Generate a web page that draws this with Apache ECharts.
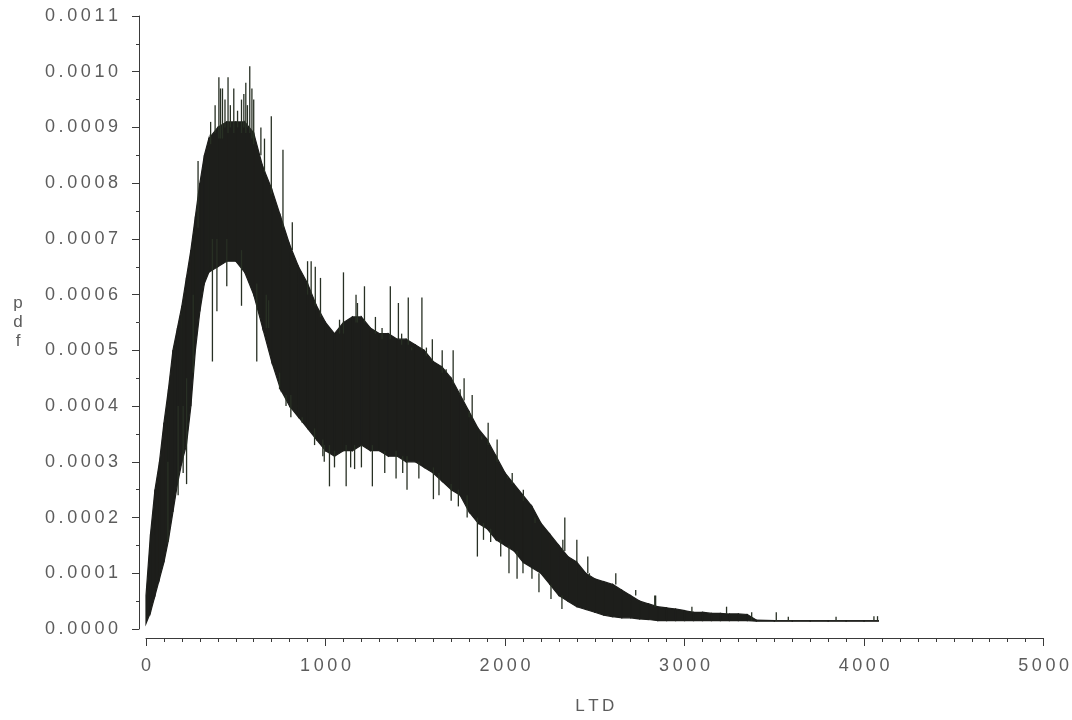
<!DOCTYPE html>
<html>
<head>
<meta charset="utf-8">
<script src="https://cdn.jsdelivr.net/npm/echarts@6/dist/echarts.min.js"></script>
<style>
html,body{margin:0;padding:0;background:#fff;}
#chart{width:1072px;height:720px;}
</style>
</head>
<body>
<div id="chart"></div>
<script>
// LTD grid (x) where the band envelope was read
const ltd = [0,25,50,75,100,125,150,175,200,225,250,275,300,325,350,400,450,500,550,600,650,700,750,800,850,900,950,
  1000,1050,1100,1150,1200,1250,1300,1350,1400,1450,1500,1550,1600,1650,1700,1750,1800,1850,1900,1950,
  2000,2050,2100,2150,2200,2250,2300,2350,2400,2450,2500,2550,2600,2650,2700,2750,2800,2850,2900,2950,
  3000,3050,3100,3150,3200,3250,3300,3350,3400,3500,3600,3700,3800,3900,4000,4080];
// upper edge of the dense pdf band
const bandHigh = [0.00006,0.00017,0.00025,0.00030,0.00037,0.00043,0.00050,0.00054,0.00058,0.00063,0.00068,0.00074,0.00080,0.00085,0.00088,0.00090,0.00091,0.00091,0.00091,0.00089,0.00083,0.00079,0.00074,0.00069,0.00065,0.00062,0.00058,
  0.00055,0.00053,0.00055,0.00056,0.00056,0.00054,0.00053,0.00053,0.00052,0.00052,0.00051,0.00050,0.00048,0.00047,0.00045,0.00042,0.00039,0.00036,0.00034,0.00031,
  0.00028,0.00026,0.00024,0.00022,0.00019,0.00017,0.00015,0.00013,0.00012,0.00010,0.00009,0.000085,0.00008,0.00007,0.00006,0.00005,0.000045,0.00004,0.000038,0.000036,
  0.000033,0.00003,0.00003,0.000028,0.000028,0.000027,0.000027,0.000026,0.000016,0.000015,0.000015,0.000015,0.000015,0.000015,0.000015,0.000015];
// lower edge of the dense pdf band
const bandLow = [0.00001,0.00003,0.00006,0.00009,0.00012,0.00016,0.00021,0.00026,0.00030,0.00033,0.00040,0.00050,0.00057,0.00062,0.00064,0.00065,0.00066,0.00066,0.00064,0.00060,0.00054,0.00048,0.00043,0.00040,0.00038,0.00036,0.00034,
  0.00032,0.00031,0.00032,0.00032,0.00033,0.00032,0.00032,0.00031,0.00031,0.00030,0.00030,0.00029,0.00028,0.000265,0.00025,0.00024,0.00021,0.00019,0.00018,0.00016,
  0.00015,0.00014,0.00012,0.00011,0.00010,0.00008,0.00006,0.00005,0.00004,0.000035,0.00003,0.000025,0.000022,0.00002,0.00002,0.000018,0.000017,0.000015,0.000015,0.000015,
  0.000015,0.000015,0.000015,0.000015,0.000015,0.000015,0.000015,0.000015,0.000014,0.000014,0.000014,0.000014,0.000014,0.000014,0.000014,0.000014];
// isolated spikes sticking out of the band: x, start value, tip value
const spikeX    = [122,179,207,226,263,290,370,395,406,415,426,450,457,489,532,532,556,578,600,617,670,698,763,807,815,900,920,939,943,972,985,
  1022,1100,1115,1162,1170,1217,1261,1361,1393,1406,1454,1461,1537,1595,1601,1632,1650,1711,1772,1789,1817,1846,1906,1920,1956,1976,
  2022,2040,2067,2189,2256,2317,2333,2400,2461,2617,2728,2834,3041,3234,3374,3511,3578,3844,4055,4075,
  // extra short edge spikes (texture of the band edges)
  360,385,440,470,510,545,565,590,640,660,683,744,780,870,993,
  1078,1178,1278,1315,1424,1480,1562,1672,1750,1800,1870,2014,
  2058,2102,2167,2213,2322,2470,2524,2839,
  1050,1140,1200,1330,1430,1520,1700,1740,1880,2100,2150];
const spikeFrom = [0.00030,0.00040,0.00040,0.00045,0.00060,0.00072,0.00070,0.00070,0.00088,0.00088,0.00088,0.00070,0.00089,0.00089,0.00089,0.00068,0.00089,0.00089,0.00087,0.00062,0.00060,0.00078,0.00072,0.00042,0.00068,0.00060,0.00060,0.00036,0.00058,0.00056,0.00034,
  0.00033,0.00053,0.00033,0.00033,0.00055,0.00055,0.00033,0.00052,0.00032,0.00052,0.00031,0.00051,0.00050,0.00048,0.00029,0.00028,0.00046,0.00044,0.00041,0.00024,0.00038,0.00020,0.00033,0.00018,0.00030,0.00016,
  0.00015,0.00026,0.00014,0.00010,0.00008,0.00006,0.00014,0.00012,0.00010,0.00008,0.00006,0.00004,0.00003,0.000027,0.000015,0.000015,0.000015,0.000015,0.000015,0.000015,
  0.00087,0.00089,0.00090,0.00090,0.00090,0.00090,0.00090,0.00088,0.00085,0.00082,0.00059,0.00046,0.00042,0.00038,0.00033,
  0.00053,0.00055,0.00053,0.00052,0.00051,0.00050,0.00049,0.00046,0.00042,0.00038,0.00034,0.00027,
  0.00025,0.00023,0.00020,0.00018,0.00014,0.00010,0.00009,0.00004,
  0.00032,0.00032,0.00033,0.00032,0.00031,0.00030,0.00026,0.00025,0.00019,0.00012,0.00011];
const spikeTo   = [0.000156,0.00024,0.00028,0.00026,0.00046,0.00084,0.00048,0.00057,0.00099,0.00097,0.00097,0.000615,0.00099,0.00097,0.00095,0.00058,0.00098,0.00101,0.00095,0.00048,0.00054,0.00092,0.00086,0.00038,0.00073,0.00066,0.00066,0.00033,0.00065,0.00063,0.00031,
  0.000256,0.00064,0.000256,0.000287,0.00060,0.000615,0.000256,0.000615,0.00027,0.000585,0.00025,0.000595,0.000595,0.00052,0.000233,0.00024,0.00050,0.00050,0.00045,0.00020,0.00042,0.00013,0.00037,0.000156,0.00034,0.00013,
  0.00010,0.00028,0.00009,0.000066,0.000054,0.000036,0.00020,0.00016,0.00013,0.00010,0.00007,0.00006,0.00004,0.00004,0.00003,0.00003,0.000022,0.000022,0.000023,0.000023,
  0.00091,0.00094,0.00095,0.00094,0.00093,0.00096,0.00094,0.00097,0.00090,0.00088,0.00054,0.00043,0.00040,0.00037,0.00030,
  0.000555,0.000585,0.00056,0.00054,0.00053,0.000505,0.000505,0.000466,0.00043,0.00039,0.000346,0.000274,
  0.00025,0.00025,0.00019,0.00018,0.00016,0.000095,0.00009,0.00006,
  0.00029,0.00029,0.00029,0.00028,0.00028,0.00027,0.00023,0.00022,0.00016,0.00010,0.00009];

const xTicks = {min: 0, max: 5000, step: 1000};
const yTicks = {min: 0, max: 0.0011, step: 0.0001};

const spaced = s => String(s).split('').join('\u2009');
const ink = '#1d1e1b';
const labelColor = '#5c5c5c';
const fontFamily = 'Liberation Sans, Arial, sans-serif';

// band drawn as one quad per envelope segment
const bandSegments = ltd.slice(0, -1).map((x, i) => [x, bandLow[i], bandHigh[i], ltd[i + 1], bandLow[i + 1], bandHigh[i + 1]]);

const chart = echarts.init(document.getElementById('chart'), null, {renderer: 'canvas'});
chart.setOption({
  animation: false,
  backgroundColor: '#ffffff',
  grid: {left: 146, right: 26, top: 16, bottom: 90, containLabel: false},
  xAxis: {
    type: 'value', min: xTicks.min, max: xTicks.max, interval: xTicks.step,
    offset: 9,
    name: spaced('LTD'), nameLocation: 'middle', nameGap: 60,
    nameTextStyle: {color: labelColor, fontSize: 17, fontFamily: fontFamily},
    axisLine: {show: true, onZero: false, lineStyle: {color: '#3a3a3a', width: 1}},
    axisTick: {show: true, length: 8, lineStyle: {color: '#3a3a3a'}},
    minorTick: {show: true, splitNumber: 10, length: 4, lineStyle: {color: '#3a3a3a'}},
    splitLine: {show: false},
    axisLabel: {color: labelColor, fontSize: 18, fontFamily: fontFamily, margin: 19,
      formatter: v => spaced(v)}
  },
  yAxis: {
    type: 'value', min: yTicks.min, max: yTicks.max, interval: yTicks.step,
    offset: 7,
    name: 'p\nd\nf', nameLocation: 'middle', nameGap: 121, nameRotate: 0,
    nameTextStyle: {color: labelColor, fontSize: 17, fontFamily: fontFamily, lineHeight: 19, align: 'center', verticalAlign: 'middle'},
    axisLine: {show: true, onZero: false, lineStyle: {color: '#3a3a3a', width: 1}},
    axisTick: {show: true, length: 7, lineStyle: {color: '#3a3a3a'}},
    minorTick: {show: true, splitNumber: 2, length: 3, lineStyle: {color: '#3a3a3a'}},
    splitLine: {show: false},
    axisLabel: {color: labelColor, fontSize: 18, fontFamily: fontFamily, margin: 21,
      formatter: v => spaced(v.toFixed(4))}
  },
  series: [
    {
      type: 'custom', name: 'band',
      data: bandSegments,
      encode: {x: [0, 3], y: [1, 2, 4, 5]},
      renderItem: (params, api) => {
        const p1 = api.coord([api.value(0), api.value(1)]);
        const p2 = api.coord([api.value(3), api.value(4)]);
        const p3 = api.coord([api.value(3), api.value(5)]);
        const p4 = api.coord([api.value(0), api.value(2)]);
        return {type: 'polygon', shape: {points: [p1, p2, p3, p4]},
          style: {fill: ink, stroke: ink, lineWidth: 1.2}};
      }
    },
    {
      type: 'custom', name: 'spikes',
      data: spikeX.map((x, i) => [x, spikeFrom[i], spikeTo[i]]),
      encode: {x: 0, y: [1, 2]},
      renderItem: (params, api) => {
        const a = api.coord([api.value(0), api.value(1)]);
        const b = api.coord([api.value(0), api.value(2)]);
        return {type: 'line', shape: {x1: a[0], y1: a[1], x2: b[0], y2: b[1]},
          style: {stroke: '#283024', lineWidth: 1.3}};
      }
    }
  ]
});
</script>
</body>
</html>
